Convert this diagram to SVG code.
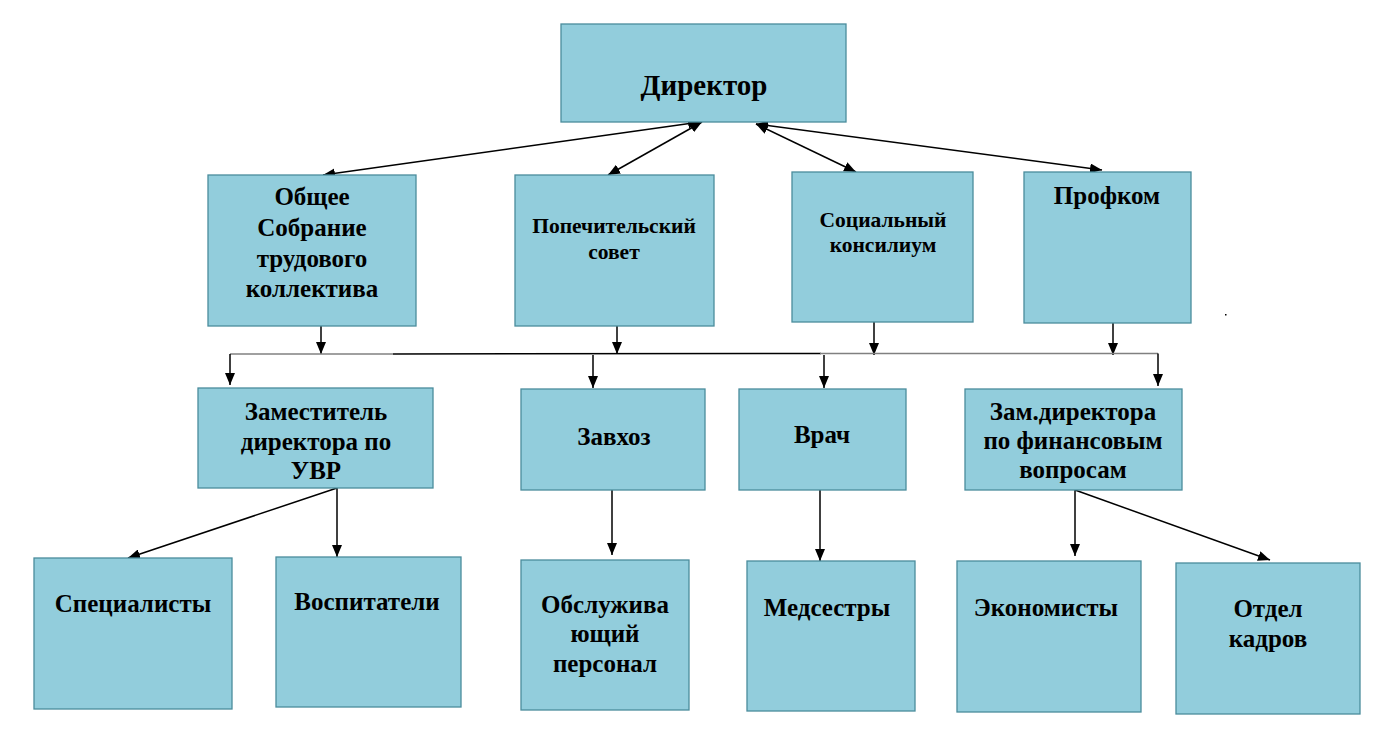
<svg xmlns="http://www.w3.org/2000/svg" width="1390" height="735" viewBox="0 0 1390 735">
<defs>
<marker id="ah" viewBox="0 0 12 10" refX="12" refY="5" markerWidth="12" markerHeight="10" markerUnits="userSpaceOnUse" orient="auto-start-reverse">
<path d="M0,0 L12,5 L0,10 z" fill="#000"/>
</marker>
<style>
.box{fill:#92CDDC;stroke:#4A8C9C;stroke-width:1.3}
.t{font-family:"Liberation Serif","Times New Roman",serif;font-weight:bold;font-size:25px;fill:#000;text-anchor:middle}
.s{font-size:21.5px}
.big{font-size:29px}
.c{stroke:#000;stroke-width:1.5;fill:none}
.g{stroke:#808080;stroke-width:1.5;fill:none}
</style>
</defs>
<rect width="1390" height="735" fill="#fff"/>
<g id="connectors">
<line class="c" x1="700" y1="122" x2="323" y2="175" marker-start="url(#ah)" marker-end="url(#ah)"/>
<line class="c" x1="702" y1="122" x2="608" y2="175" marker-start="url(#ah)" marker-end="url(#ah)"/>
<line class="c" x1="756" y1="124" x2="856" y2="172" marker-start="url(#ah)" marker-end="url(#ah)"/>
<line class="c" x1="756" y1="124" x2="1102" y2="170" marker-start="url(#ah)" marker-end="url(#ah)"/>
<line class="c" x1="321" y1="326" x2="321" y2="354" marker-end="url(#ah)"/>
<line class="c" x1="617" y1="326" x2="617" y2="354" marker-end="url(#ah)"/>
<line class="c" x1="874" y1="322" x2="874" y2="355" marker-end="url(#ah)"/>
<line class="c" x1="1113" y1="323" x2="1113" y2="355" marker-end="url(#ah)"/>
<line class="g" x1="230" y1="354" x2="393" y2="354"/>
<line class="c" x1="393" y1="354" x2="821" y2="353.5"/>
<line class="g" x1="820" y1="353.5" x2="1158" y2="353.5"/>
<line class="c" x1="230" y1="354" x2="230" y2="385" marker-end="url(#ah)"/>
<line class="c" x1="593" y1="355" x2="593" y2="388" marker-end="url(#ah)"/>
<line class="c" x1="824" y1="355" x2="824" y2="388" marker-end="url(#ah)"/>
<line class="c" x1="1158" y1="353.5" x2="1158" y2="386" marker-end="url(#ah)"/>
<line class="c" x1="337" y1="488" x2="128" y2="558" marker-end="url(#ah)"/>
<line class="c" x1="337" y1="488" x2="337" y2="557" marker-end="url(#ah)"/>
<line class="c" x1="612" y1="490" x2="612" y2="555" marker-end="url(#ah)"/>
<line class="c" x1="820" y1="490" x2="820" y2="561" marker-end="url(#ah)"/>
<line class="c" x1="1075" y1="490" x2="1075" y2="556" marker-end="url(#ah)"/>
<line class="c" x1="1075" y1="490" x2="1270" y2="560" marker-end="url(#ah)"/>
</g>
<g id="director"><rect class="box" x="561" y="24" width="285" height="98"/><text class="t big" x="704" y="95">Директор</text></g>
<g id="obshchee"><rect class="box" x="208" y="175" width="208" height="151"/><text class="t" x="312"><tspan x="312" y="205">Общее</tspan><tspan x="312" y="236">Собрание</tspan><tspan x="312" y="267">трудового</tspan><tspan x="312" y="297">коллектива</tspan></text></g>
<g id="popech"><rect class="box" x="515" y="175" width="199" height="151"/><text class="t s" x="614"><tspan x="614" y="233">Попечительский</tspan><tspan x="614" y="259">совет</tspan></text></g>
<g id="social"><rect class="box" x="792" y="172" width="181" height="150"/><text class="t s" x="883"><tspan x="883" y="227">Социальный</tspan><tspan x="883" y="252">консилиум</tspan></text></g>
<g id="profkom"><rect class="box" x="1024" y="172" width="167" height="151"/><text class="t" x="1107" y="204">Профком</text></g>
<g id="zam-uvr"><rect class="box" x="198" y="388" width="235" height="100"/><text class="t" x="316"><tspan x="316" y="420">Заместитель</tspan><tspan x="316" y="450">директора по</tspan><tspan x="316" y="479">УВР</tspan></text></g>
<g id="zavhoz"><rect class="box" x="521" y="389" width="184" height="101"/><text class="t" x="614" y="445">Завхоз</text></g>
<g id="vrach"><rect class="box" x="739" y="389" width="167" height="101"/><text class="t" x="822" y="443">Врач</text></g>
<g id="zam-fin"><rect class="box" x="965" y="389" width="217" height="101"/><text class="t" x="1073"><tspan x="1073" y="420">Зам.директора</tspan><tspan x="1073" y="449">по финансовым</tspan><tspan x="1073" y="478">вопросам</tspan></text></g>
<g id="specialisty"><rect class="box" x="34" y="558" width="198" height="151"/><text class="t" x="133" y="612">Специалисты</text></g>
<g id="vospitateli"><rect class="box" x="276" y="557" width="185" height="150"/><text class="t" x="367" y="610">Воспитатели</text></g>
<g id="obsluzh"><rect class="box" x="521" y="560" width="168" height="150"/><text class="t" x="605"><tspan x="605" y="613">Обслужива</tspan><tspan x="605" y="642">ющий</tspan><tspan x="605" y="672">персонал</tspan></text></g>
<g id="medsestry"><rect class="box" x="747" y="561" width="168" height="150"/><text class="t" x="827" y="616">Медсестры</text></g>
<g id="ekonomisty"><rect class="box" x="957" y="561" width="184" height="151"/><text class="t" x="1046" y="616">Экономисты</text></g>
<g id="kadry"><rect class="box" x="1176" y="563" width="184" height="151"/><text class="t" x="1268"><tspan x="1268" y="617">Отдел</tspan><tspan x="1268" y="647">кадров</tspan></text></g>
<rect x="1225" y="314" width="1.5" height="1.5" fill="#000"/>
</svg>
